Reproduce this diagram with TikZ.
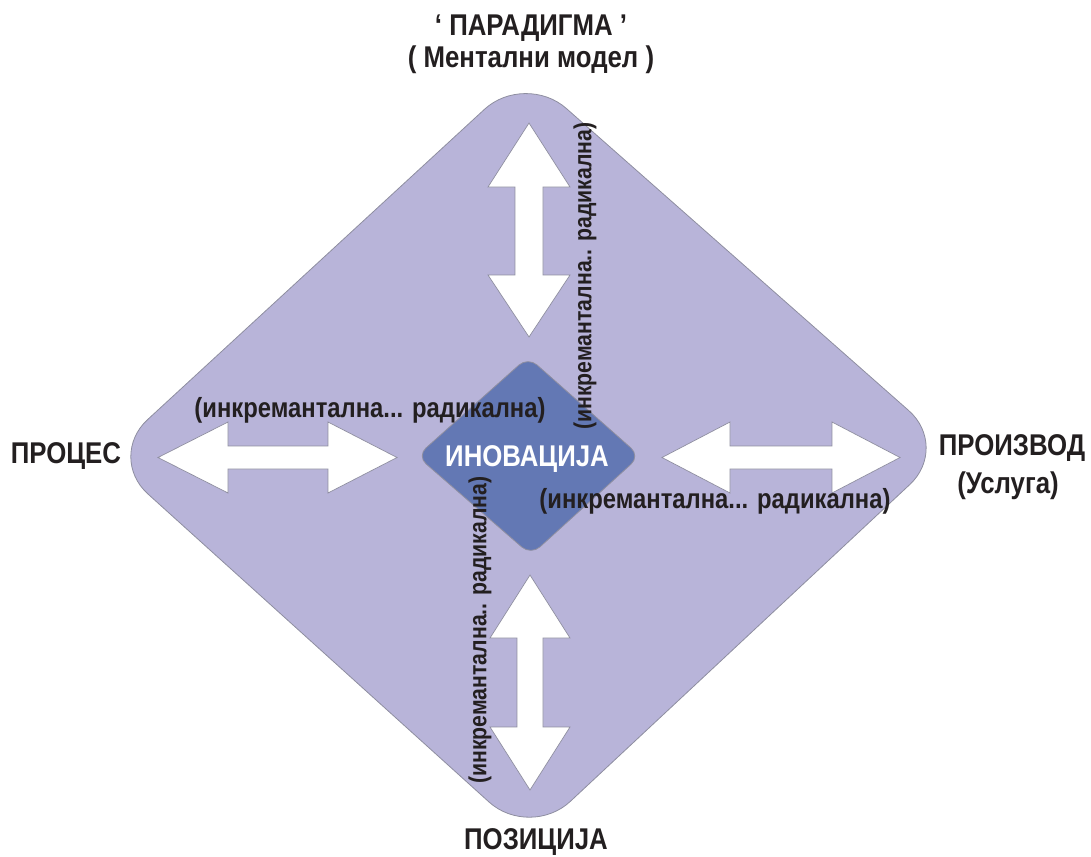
\documentclass[tikz,border=0pt]{standalone}
\usepackage{fontspec}
\setmainfont{Liberation Sans}[FakeStretch=0.86]
\usepackage{tikz}
\definecolor{lavender}{HTML}{B8B4D9}
\definecolor{innov}{HTML}{6378B4}
\definecolor{edge}{HTML}{8E8EA0}
\definecolor{ink}{HTML}{231F20}
\tikzset{
  outerBox/.style={fill=lavender, draw=edge, line width=0.8pt, rounded corners=55pt},
  innerBox/.style={fill=innov, draw=edge, line width=0.8pt, rounded corners=12pt},
  blockArrow/.style={fill=white, draw=edge, line width=0.7pt},
  big/.style={font=\bfseries\fontsize{30}{34}\selectfont, text=ink, anchor=base, inner sep=0pt},
  spanH/.style={font=\bfseries\fontsize{27.7}{30}\selectfont, text=ink, inner sep=0pt},
  spanV/.style={font=\bfseries\fontsize{24.7}{28}\selectfont, text=ink, inner sep=0pt, rotate=90}
}

\begin{document}
\begin{tikzpicture}[x=1pt, y=-1pt]
  \useasboundingbox (0,0) rectangle (1091,856);

  % outer diamond
  \coordinate (oTop) at (525,72);
  \coordinate (oRight) at (950,447);
  \coordinate (oBottom) at (530,839);
  \coordinate (oLeft) at (107,457);
  \draw[outerBox] (oTop) -- (oRight) -- (oBottom) -- (oLeft) -- cycle;

  % double arrows
  \draw[blockArrow] (158,457.5) -- (228,422) -- (228,446) -- (328,446) -- (328,422) -- (397,457.5)
    -- (328,493) -- (328,469) -- (228,469) -- (228,493) -- cycle;
  \draw[blockArrow] (662,457.5) -- (730,422) -- (730,446) -- (832,446) -- (832,422) -- (900,457.5)
    -- (832,493) -- (832,469) -- (730,469) -- (730,493) -- cycle;
  \draw[blockArrow] (529,123) -- (570,187) -- (543,187) -- (543,275) -- (570,275) -- (529,337)
    -- (488,275) -- (515,275) -- (515,187) -- (488,187) -- cycle;
  \draw[blockArrow] (530,575) -- (570,638) -- (543,638) -- (543,727) -- (570,727) -- (530,790)
    -- (490,727) -- (517,727) -- (517,638) -- (490,638) -- cycle;

  % inner diamond
  \coordinate (iTop) at (528,357);
  \coordinate (iRight) at (640,456);
  \coordinate (iBottom) at (531,555);
  \coordinate (iLeft) at (417,456);
  \draw[innerBox] (iTop) -- (iRight) -- (iBottom) -- (iLeft) -- cycle;

  \node[big, text=white] (inov) at (527,466) {ИНОВАЦИЈА};

  % outer labels
  \node[big] (parad) at (531,36) {‘ ПАРАДИГМА ’};
  \node[big] (mental) at (531,68) {( Ментални модел )};
  \node[big] (proces) at (66,463) {ПРОЦЕС};
  \node[big] (proizv) at (1012,455) {ПРОИЗВОД};
  \node[big] (usluga) at (1008,493) {(Услуга)};
  \node[big] (pozic) at (536,849) {ПОЗИЦИЈА};

  % range labels
  \node[spanH] (rLeft) at (370,410) {(инкремантална... радикална)};
  \node[spanH] (rRight) at (715,501) {(инкремантална... радикална)};
  \node[spanV] (rTop) at (585,276) {(инкремантална.. радикална)};
  \node[spanV] (rBottom) at (480,630) {(инкремантална.. радикална)};
\end{tikzpicture}
\end{document}
